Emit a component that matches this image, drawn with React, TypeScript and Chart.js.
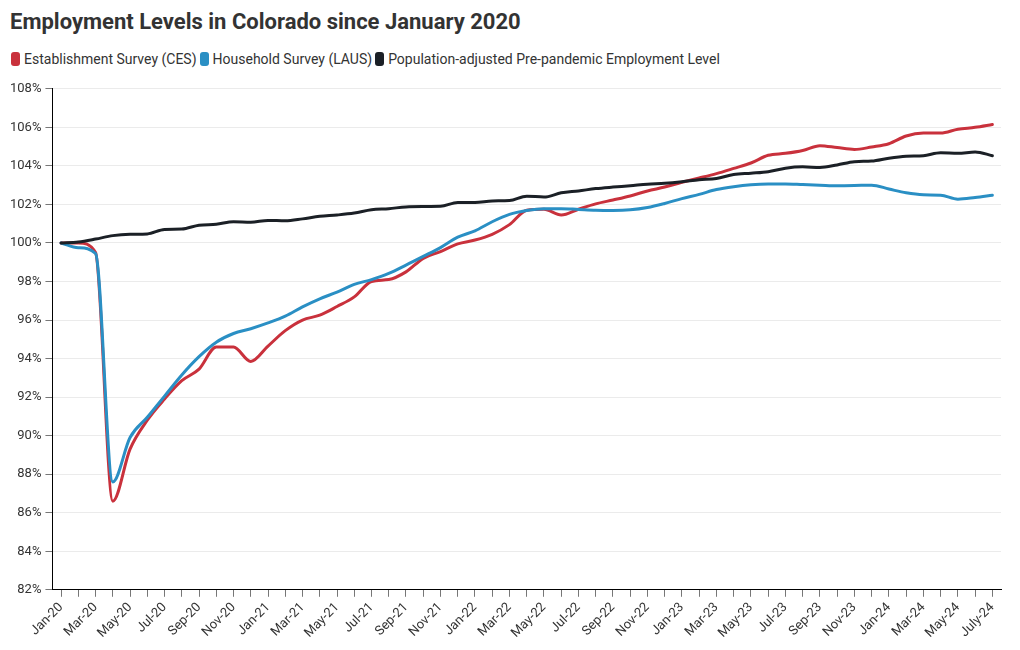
import React, { useEffect, useRef } from "react";
import { Chart, registerables } from "chart.js";

Chart.register(...registerables);

const months: string[] = [
  "Jan-20", "Feb-20", "Mar-20", "Apr-20", "May-20", "Jun-20", "Jul-20", "Aug-20", "Sep-20", "Oct-20", "Nov-20", "Dec-20",
  "Jan-21", "Feb-21", "Mar-21", "Apr-21", "May-21", "Jun-21", "Jul-21", "Aug-21", "Sep-21", "Oct-21", "Nov-21", "Dec-21",
  "Jan-22", "Feb-22", "Mar-22", "Apr-22", "May-22", "Jun-22", "Jul-22", "Aug-22", "Sep-22", "Oct-22", "Nov-22", "Dec-22",
  "Jan-23", "Feb-23", "Mar-23", "Apr-23", "May-23", "Jun-23", "Jul-23", "Aug-23", "Sep-23", "Oct-23", "Nov-23", "Dec-23",
  "Jan-24", "Feb-24", "Mar-24", "Apr-24", "May-24", "Jun-24", "July-24",
];

const ces: number[] = [
  100, 100.0, 99.5, 86.6, 89.3, 90.8, 91.9, 92.85, 93.45, 94.6, 94.6, 93.85,
  94.65, 95.45, 96.0, 96.25, 96.7, 97.2, 98.0, 98.1, 98.5, 99.2, 99.55, 99.95,
  100.15, 100.45, 100.95, 101.7, 101.75, 101.45, 101.75, 102.03, 102.23, 102.44, 102.7, 102.9,
  103.15, 103.37, 103.6, 103.87, 104.15, 104.55, 104.65, 104.8, 105.05, 104.95, 104.85, 104.98,
  105.15, 105.55, 105.7, 105.7, 105.9, 106.0, 106.15,
];

const laus: number[] = [
  100, 99.75, 99.45, 87.6, 89.9, 90.95, 92.05, 93.15, 94.1, 94.85, 95.3, 95.55,
  95.85, 96.2, 96.68, 97.1, 97.45, 97.85, 98.1, 98.42, 98.85, 99.3, 99.76, 100.3,
  100.63, 101.1, 101.48, 101.68, 101.78, 101.78, 101.74, 101.7, 101.69, 101.72, 101.84, 102.05,
  102.3, 102.52, 102.77, 102.92, 103.02, 103.06, 103.06, 103.03, 103.0, 102.97, 102.98, 103.0,
  102.8, 102.6, 102.5, 102.48, 102.27, 102.36, 102.48,
];

const prePandemic: number[] = [
  100, 100.05, 100.2, 100.38, 100.45, 100.47, 100.7, 100.72, 100.92, 100.97, 101.1, 101.08,
  101.17, 101.15, 101.25, 101.38, 101.45, 101.55, 101.72, 101.78, 101.87, 101.89, 101.9, 102.1,
  102.1, 102.18, 102.2, 102.43, 102.38, 102.6, 102.7, 102.82, 102.9, 102.97, 103.05, 103.1,
  103.18, 103.28, 103.35, 103.55, 103.62, 103.7, 103.88, 103.95, 103.92, 104.05, 104.22, 104.25,
  104.4, 104.5, 104.53, 104.68, 104.65, 104.72, 104.53,
];

const seriesNames: string[] = [
  "Establishment Survey (CES)",
  "Household Survey (LAUS)",
  "Population-adjusted Pre-pandemic Employment Level",
];
const seriesColors: string[] = ["#c9313c", "#2a8fc4", "#1b2026"];

const FONT = "Roboto, 'Noto Sans', sans-serif";

export default function App() {
  const ref = useRef<HTMLCanvasElement | null>(null);

  useEffect(() => {
    if (!ref.current) return;
    const chart = new Chart(ref.current, {
      type: "line",
      data: {
        labels: months,
        datasets: [
          { label: seriesNames[0], data: ces, borderColor: seriesColors[0], order: 2 },
          { label: seriesNames[1], data: laus, borderColor: seriesColors[1], order: 1 },
          { label: seriesNames[2], data: prePandemic, borderColor: seriesColors[2], order: 0 },
        ].map((d) => ({
          ...d,
          borderWidth: 3,
          pointRadius: 0,
          pointHoverRadius: 0,
          fill: false,
          cubicInterpolationMode: "monotone" as const,
          borderCapStyle: "round" as const,
          borderJoinStyle: "round" as const,
        })),
      },
      options: {
        animation: false,
        responsive: true,
        maintainAspectRatio: false,
        layout: { padding: { left: 0, right: 11, top: 10, bottom: 0 } },
        plugins: {
          legend: { display: false },
          title: { display: false },
          tooltip: { enabled: false },
        },
        scales: {
          x: {
            offset: true,
            grid: {
              offset: false,
              drawOnChartArea: false,
              tickLength: 7,
              tickColor: "#777777",
              tickWidth: 1,
            },
            border: { color: "#000000", width: 1 },
            ticks: {
              autoSkip: false,
              maxRotation: 45,
              minRotation: 45,
              padding: 3,
              color: "#333333",
              font: { family: FONT, size: 13 },
              callback: (_v: any, i: number) => (i % 2 === 0 ? months[i] : ""),
            },
          },
          y: {
            min: 82,
            max: 108,
            grid: {
              color: "#ebebeb",
              tickColor: "#777777",
              tickLength: 7,
              lineWidth: 1,
            },
            border: { color: "#000000", width: 1 },
            ticks: {
              stepSize: 2,
              padding: 4,
              color: "#333333",
              font: { family: FONT, size: 13 },
              callback: (v: any) => `${v}%`,
            },
          },
        },
      },
    });
    return () => chart.destroy();
  }, []);

  return (
    <div style={{ position: "relative", width: 1004, height: 634, fontFamily: FONT, color: "#333333" }}>
      <div
        style={{
          position: "absolute",
          left: 2,
          top: 0,
          fontSize: 22,
          fontWeight: 700,
          lineHeight: "28px",
          whiteSpace: "nowrap",
          color: "#333333",
        }}
      >
        Employment Levels in Colorado since January 2020
      </div>
      <div
        style={{
          position: "absolute",
          left: 3,
          top: 41,
          height: 20,
          display: "flex",
          alignItems: "center",
          fontSize: 14,
          whiteSpace: "nowrap",
          color: "#333333",
        }}
      >
        {seriesNames.map((n, i) => (
          <div key={n} style={{ display: "flex", alignItems: "center", marginRight: 3 }}>
            <span
              style={{
                display: "inline-block",
                width: 9,
                height: 14,
                borderRadius: 3,
                background: seriesColors[i],
                marginRight: 4,
              }}
            />
            <span>{n}</span>
          </div>
        ))}
      </div>
      <div style={{ position: "absolute", left: -2, top: 69, width: 1006, height: 567 }}>
        <canvas ref={ref} />
      </div>
    </div>
  );
}
